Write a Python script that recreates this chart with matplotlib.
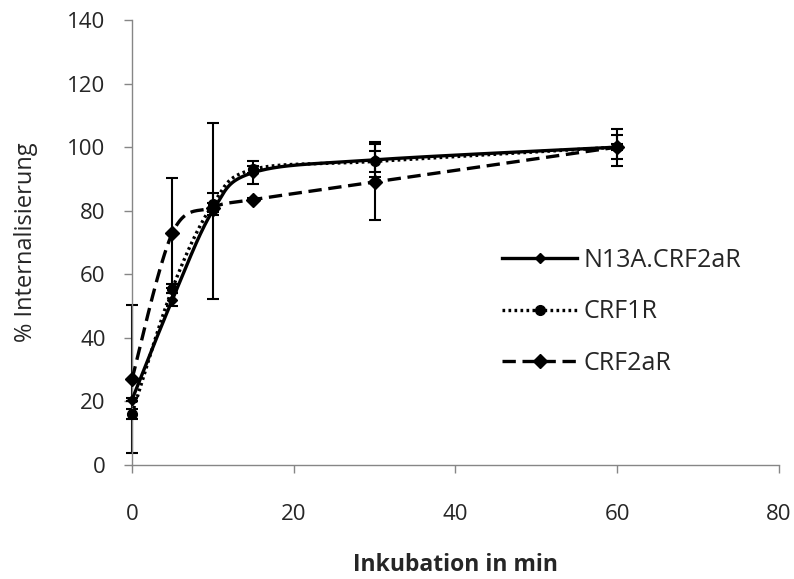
import numpy as np
import matplotlib
matplotlib.use("Agg")
import matplotlib.pyplot as plt

plt.rcParams['font.family'] = ['Open Sans', 'DejaVu Sans']

# Zeitpunkte (min)
zeit = [0, 5, 10, 15, 30, 60]

# Mittelwerte % Internalisierung
n13a = [20.5, 52, 80, 92, 96, 100]
crf1r = [16, 55.5, 82, 93, 95.5, 100]
crf2ar = [27, 73, 81, 83.5, 89, 100]

# Fehlerbalken (SD)
n13a_err = [0.5, 2, 27.7, 3.7, 5.5, 5.8]
crf1r_err = [1.6, 1.5, 3.5, 1.0, 3.4, 3.7]
crf2ar_err = [23.3, 17.3, 1.5, 0.5, 12, 1.0]

labels = ['N13A.CRF2aR', 'CRF1R', 'CRF2aR']


def smooth(x, y, n=40):
    # Excel-artige geglaettete Linie (Bezier durch die Punkte)
    x = np.asarray(x, float)
    y = np.asarray(y, float)
    px, py = [], []
    t = np.linspace(0, 1, n)
    for i in range(len(x) - 1):
        i0 = max(i - 1, 0)
        i3 = min(i + 2, len(x) - 1)
        c1x = x[i] + (x[i + 1] - x[i0]) / 6
        c1y = y[i] + (y[i + 1] - y[i0]) / 6
        c2x = x[i + 1] - (x[i3] - x[i]) / 6
        c2y = y[i + 1] - (y[i3] - y[i]) / 6
        bx = (1 - t) ** 3 * x[i] + 3 * (1 - t) ** 2 * t * c1x + 3 * (1 - t) * t ** 2 * c2x + t ** 3 * x[i + 1]
        by = (1 - t) ** 3 * y[i] + 3 * (1 - t) ** 2 * t * c1y + 3 * (1 - t) * t ** 2 * c2y + t ** 3 * y[i + 1]
        px.extend(bx)
        py.extend(by)
    return np.array(px), np.array(py)


fig = plt.figure(figsize=(7.94, 5.79), dpi=100)
ax = fig.add_axes([0.1662, 0.1969, 0.8148, 0.7686])

lw = 2.4
styles = [
    dict(ls='-', marker='D', ms=5),
    dict(ls=(0, (0.8, 1.0)), marker='o', ms=7),
    dict(ls=(0, (4, 2)), marker='D', ms=7),
]
series = [(n13a, n13a_err), (crf1r, crf1r_err), (crf2ar, crf2ar_err)]

handles = []
for (vals, err), st, lab in zip(series, styles, labels):
    sx, sy = smooth(zeit, vals)
    ax.plot(sx, sy, color='black', lw=lw, ls=st['ls'], zorder=3, clip_on=False)
    ax.plot(zeit, vals, ls='none', marker=st['marker'], ms=st['ms'],
            color='black', zorder=4, clip_on=False)
    eb = ax.errorbar(zeit, vals, yerr=err, fmt='none', ecolor='black',
                     elinewidth=1.5, capsize=4.5, capthick=1.5, zorder=2)
    for art in eb.lines[1] + eb.lines[2]:
        art.set_clip_on(False)
    h, = ax.plot([], [], color='black', lw=lw, ls=st['ls'],
                 marker=st['marker'], ms=st['ms'])
    handles.append(h)

ax.set_xlim(0, 80)
ax.set_ylim(0, 140)
ax.set_xticks(np.arange(0, 81, 20))
ax.set_yticks(np.arange(0, 141, 20))

for s in ['top', 'right']:
    ax.spines[s].set_visible(False)
for s in ['left', 'bottom']:
    ax.spines[s].set_color('#868686')
    ax.spines[s].set_linewidth(1.0)
ax.tick_params(direction='out', length=6, width=1, color='#868686',
               labelsize=16, labelcolor='#262626')
ax.tick_params(axis='x', pad=22)
ax.tick_params(axis='y', pad=13)

ax.set_xlabel('Inkubation in min', fontsize=16.5, fontweight='bold',
              color='#262626')
ax.set_ylabel('% Internalisierung', fontsize=17, color='#262626')
ax.xaxis.label.set_va('center')
ax.yaxis.label.set_va('center')
ax.xaxis.set_label_coords(0.5, -0.225)
ax.yaxis.set_label_coords(-0.164, 0.5)

ax.legend(handles, labels, loc='center left', bbox_to_anchor=(0.572, 0.344),
          frameon=False, fontsize=18, handlelength=3.0, handletextpad=0.25,
          labelspacing=1.05, borderpad=0, borderaxespad=0, labelcolor='#262626')

fig.savefig('out.png', dpi=100)
